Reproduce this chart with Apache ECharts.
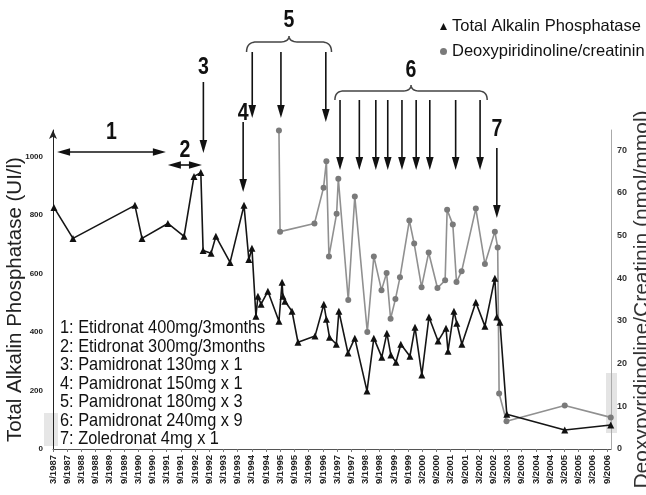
<!DOCTYPE html>
<html><head><meta charset="utf-8">
<script src="https://cdn.jsdelivr.net/npm/echarts@6/dist/echarts.min.js"></script>
<style>html,body{margin:0;padding:0;background:#fff}#c{width:646px;height:495px}</style>
</head><body><div id="c"></div>
<script>
// ---------------- data ----------------
const TAP_NAME = 'Total Alkalin Phosphatase';
const DPD_NAME = 'Deoxypiridinoline/creatinin';

// dates as decimal years
const tapDates = [1987.20,1987.87,1990.05,1990.30,1991.21,1991.78,1992.13,1992.37,1992.45,1992.73,
  1992.90,1993.40,1993.89,1994.06,1994.17,1994.31,1994.38,1994.49,1994.73,1995.12,
  1995.23,1995.26,1995.33,1995.58,1995.79,1996.39,1996.70,1996.79,1996.90,1997.14,
  1997.23,1997.55,1997.79,1998.22,1998.46,1998.74,1998.92,1999.06,1999.24,1999.41,
  1999.73,1999.91,2000.15,2000.40,2000.72,2001.00,2001.07,2001.28,2001.38,2001.56,
  2002.05,2002.37,2002.72,2002.79,2002.90,2003.14,2005.18,2006.80];
const tapValues = [826,720,833,720,771,727,932,945,679,669,
  727,638,833,648,686,454,522,495,539,437,
  570,522,505,471,365,386,495,444,382,358,
  471,328,379,198,379,314,396,321,297,358,
  317,416,253,451,369,413,334,471,430,358,
  502,420,584,451,433,119,65,82];

const dpdDates = [1995.12,1995.16,1996.37,1996.69,1996.79,1996.88,1997.15,1997.21,1997.56,1997.79,
  1998.23,1998.46,1998.73,1998.91,1999.05,1999.22,1999.38,1999.71,1999.88,2000.14,
  2000.39,2000.70,2000.97,2001.04,2001.24,2001.37,2001.55,2002.05,2002.37,2002.72,
  2002.82,2002.87,2003.13,2005.18,2006.80];
const dpdValues = [74.6,50.9,52.8,61.2,67.4,45.1,55.1,63.3,34.9,59.1,
  27.4,45.1,37.2,41.2,30.5,35.1,40.2,53.5,48.1,37.9,
  46.0,37.7,39.5,56.0,52.6,39.1,41.6,56.3,43.3,50.9,
  47.2,13.0,6.5,10.2,7.4];

const tickLabels = ['3/1987','9/1987','3/1988','9/1988','3/1989','9/1989','3/1990','9/1990','3/1991','9/1991',
  '3/1992','9/1992','3/1993','9/1993','3/1994','9/1994','3/1995','9/1995','3/1996','9/1996',
  '3/1997','9/1997','3/1998','9/1998','3/1999','9/1999','3/2000','9/2000','3/2001','9/2001',
  '3/2002','9/2002','3/2003','9/2003','3/2004','9/2004','3/2005','9/2005','3/2006','9/2006'];

// treatment annotations (dates in decimal years)
const periodArrows = [{label:'1', from:1987.31, to:1991.14}, {label:'2', from:1991.21, to:1992.41}];
const singleDoses = [{label:'3', date:1992.46}, {label:'4', date:1993.86}, {label:'7', date:2002.79}];
const dose5Dates = [1994.18, 1995.19, 1996.77];
const dose5Span = [1993.98, 1996.97];
const dose6Dates = [1997.27, 1997.95, 1998.53, 1998.95, 1999.45, 1999.95, 2000.43, 2001.34, 2002.20];
const dose6Span = [1997.09, 2002.45];
const treatments = ['1: Etidronat 400mg/3months','2: Etidronat 300mg/3months','3: Pamidronat 130mg x 1',
  '4: Pamidronat 150mg x 1','5: Pamidronat 180mg x 3','6: Pamidronat 240mg x 9','7: Zoledronat 4mg x 1'];

// ---------------- chart ----------------
const SANS = '"Liberation Sans",Arial,sans-serif';
function toX(yr){ return (yr - 1987) * 12 - 2; } // months since March 1987

const chart = echarts.init(document.getElementById('c'));
chart.setOption({
  animation:false,
  backgroundColor:'#fff',
  grid:{left:53, right:35, top:130, bottom:46, outerBoundsMode:'none', containLabel:false},
  legend:{orient:'vertical', left:435, top:13, itemWidth:7, itemHeight:7, itemGap:8,
    textStyle:{fontFamily:SANS, fontSize:16.5, color:'#111'},
    data:[{name:TAP_NAME, icon:'triangle'}, {name:DPD_NAME, icon:'circle'}]},
  xAxis:{type:'value', min:0, max:235.7, interval:6,
    axisLine:{onZero:false, lineStyle:{color:'#555'}},
    axisTick:{length:3, lineStyle:{color:'#777'}},
    splitLine:{show:false},
    axisLabel:{rotate:90, margin:6, fontSize:9.5, fontWeight:'bold', color:'#222', fontFamily:SANS, showMaxLabel:false,
      formatter:function(v){ const k=v/6; return Math.abs(k-Math.round(k))<1e-6 ? (tickLabels[Math.round(k)]||'') : ''; }}},
  yAxis:[
    {type:'value', position:'left', min:0, max:1090.6, interval:200,
      name:'Total Alkalin Phosphatase (UI/l)', nameLocation:'middle', nameGap:27, nameRotate:90, nameMoveOverlap:false,
      nameTextStyle:{fontFamily:SANS, fontSize:20.5, color:'#222', padding:[0,20,0,0]},
      axisLine:{show:true, onZero:false, symbol:['none','arrow'], symbolSize:[6,9], lineStyle:{color:'#222'}},
      axisTick:{show:false}, splitLine:{show:false},
      axisLabel:{showMaxLabel:false, fontSize:8, fontWeight:'bold', color:'#222', margin:10, fontFamily:SANS,
        formatter:v=>String(v)}},
    {type:'value', position:'right', min:0, max:74.7, interval:10,
      name:'Deoxypyridinoline/Creatinin (nmol/mmol)', nameLocation:'middle', nameGap:21, nameRotate:90, nameMoveOverlap:false,
      nameTextStyle:{fontFamily:SANS, fontSize:21, color:'#333', padding:[0,20,0,0]},
      axisLine:{show:true, onZero:false, lineStyle:{color:'#aaa'}},
      axisTick:{show:false}, splitLine:{show:false},
      axisLabel:{showMaxLabel:false, fontSize:9, fontWeight:'bold', color:'#333', margin:6, fontFamily:SANS,
        formatter:v=>String(v)}}
  ],
  series:[
    {name:DPD_NAME, type:'line', yAxisIndex:1, clip:false, showAllSymbol:true,
      data:dpdDates.map((d,i)=>[toX(d), dpdValues[i]]),
      symbol:'circle', symbolSize:6, color:'#808080',
      lineStyle:{width:1.6, color:'#909090'}, itemStyle:{color:'#7a7a7a'}, z:2},
    {name:TAP_NAME, type:'line', yAxisIndex:0, clip:false, showAllSymbol:true,
      data:tapDates.map((d,i)=>[toX(d), tapValues[i]]),
      symbol:'triangle', symbolSize:7, color:'#111',
      lineStyle:{width:1.6, color:'#151515'}, itemStyle:{color:'#111'}, z:3}
  ]
});

// ---------------- annotations ----------------
const px = yr => chart.convertToPixel({xAxisIndex:0}, toX(yr));
const G = [];
const INK = '#111';
function vArrow(x, y1, y2){
  G.push({type:'line', shape:{x1:x, y1:y1, x2:x, y2:y2-10}, style:{stroke:INK, lineWidth:1.6}});
  G.push({type:'polygon', shape:{points:[[x-3.8,y2-13],[x+3.8,y2-13],[x,y2]]}, style:{fill:INK}});
}
function hArrow(x1, x2, y){
  G.push({type:'line', shape:{x1:x1+10, y1:y, x2:x2-10, y2:y}, style:{stroke:INK, lineWidth:1.6}});
  G.push({type:'polygon', shape:{points:[[x1,y],[x1+13,y-3.8],[x1+13,y+3.8]]}, style:{fill:INK}});
  G.push({type:'polygon', shape:{points:[[x2,y],[x2-13,y-3.8],[x2-13,y+3.8]]}, style:{fill:INK}});
}
function quad(pts, p0, c, p1){
  for (let t=0.1; t<=1.0001; t+=0.1){
    const u=1-t;
    pts.push([u*u*p0[0]+2*u*t*c[0]+t*t*p1[0], u*u*p0[1]+2*u*t*c[1]+t*t*p1[1]]);
  }
}
function brace(x1, x2, yEnd, yBar, yTip){
  const xm=(x1+x2)/2, r=yEnd-yBar;
  const pts=[[x1,yEnd]];
  quad(pts,[x1,yEnd],[x1,yBar],[x1+r,yBar]);
  pts.push([xm-r,yBar]);
  quad(pts,[xm-r,yBar],[xm,yBar],[xm,yTip]);
  quad(pts,[xm,yTip],[xm,yBar],[xm+r,yBar]);
  pts.push([x2-r,yBar]);
  quad(pts,[x2-r,yBar],[x2,yBar],[x2,yEnd]);
  G.push({type:'polyline', shape:{points:pts}, style:{stroke:'#444', lineWidth:1.5, fill:null}});
}
function digit(t, x, y){
  G.push({type:'text', x:x, y:y, scaleX:0.85, style:{text:t, fontSize:23, fontWeight:'bold', fontFamily:SANS, fill:INK, align:'center', verticalAlign:'middle'}});
}

// scan artefact shading
G.push({type:'rect', z:-10, shape:{x:44, y:413, width:14, height:33}, style:{fill:'#e6e6e6'}});
G.push({type:'rect', z:-10, shape:{x:606, y:373, width:11, height:60}, style:{fill:'#e4e4e4'}});

// periods 1 and 2
const pLayout = [{y:152, ly:133}, {y:165, ly:151}];
periodArrows.forEach((p,i)=>{ const a=px(p.from), b=px(p.to); hArrow(a,b,pLayout[i].y); digit(p.label,(a+b)/2,pLayout[i].ly); });
// single doses 3, 4, 7
const sLayout = {'3':{y1:82,y2:153,ly:68}, '4':{y1:122,y2:192,ly:114}, '7':{y1:148,y2:218,ly:130}};
singleDoses.forEach(s=>{ const x=px(s.date), L=sLayout[s.label]; vArrow(x,L.y1,L.y2); digit(s.label,x,L.ly); });
// group 5
dose5Dates.forEach((d,i)=>vArrow(px(d), 52, i===2?122:118));
brace(px(dose5Span[0]), px(dose5Span[1]), 52, 42, 36);
digit('5', (px(dose5Span[0])+px(dose5Span[1]))/2, 21);
// group 6
dose6Dates.forEach(d=>vArrow(px(d), 100, 170));
brace(px(dose6Span[0]), px(dose6Span[1]), 100, 91, 85);
digit('6', (px(dose6Span[0])+px(dose6Span[1]))/2, 71);
// treatment list
treatments.forEach((t,i)=>G.push({type:'text', x:60, y:328+i*18.5, scaleX:0.86, style:{text:t, fontSize:19, fontFamily:SANS, fill:INK, verticalAlign:'middle'}}));

chart.setOption({graphic:G});
</script></body></html>
